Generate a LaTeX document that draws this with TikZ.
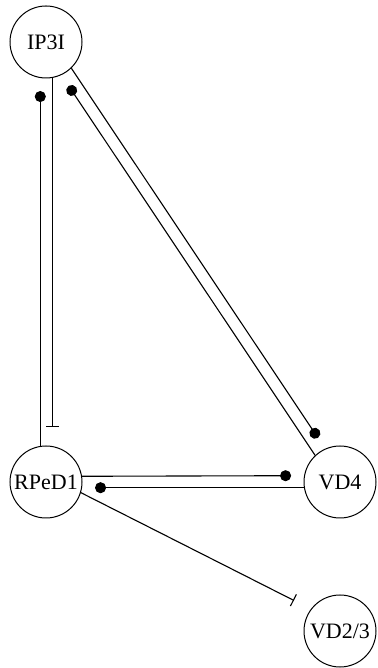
\documentclass[tikz,border=0pt]{standalone}
\usepackage{fontspec}
\setmainfont{Liberation Serif}
\usepackage{tikz}
\usetikzlibrary{arrows.meta}

\tikzset{
  cell/.style={draw,circle,line width=1pt,minimum size=72pt,inner sep=1pt,
               font=\fontsize{22}{26}\selectfont},
  excite/.style={line width=1.1pt,-{Circle[length=11pt]},shorten >=13pt},
  inhibit/.style={line width=1.1pt,-{Bar[width=13pt,line width=1.1pt]},shorten >=19pt}
}

\begin{document}
\begin{tikzpicture}[x=1pt,y=1pt]
        \useasboundingbox (0,0) rectangle (377,668);
        % neurons
        \node[cell] (ip3i)  at (46,626)  {IP3I};
        \node[cell] (rped1) at (46,186)  {RPeD1};
        \node[cell] (vd4)   at (340,186) {VD4};
        \node[cell] (vd23)  at (340,37)  {VD2/3};
        % synapses, each pair offset to the left of its direction
        \draw[inhibit] (ip3i.-80.4)   -- (rped1.80.4);
        \draw[excite]  (rped1.99.6)   -- (ip3i.-99.6);
        \draw[excite]  (rped1.9.6)    -- (vd4.170.4);
        \draw[excite]  (vd4.189.6)    -- (rped1.-9.6);
        \draw[excite]  (ip3i.-46.65)  -- (vd4.114.15);
        \draw[excite]  (vd4.133.35)   -- (ip3i.-65.85);
        \draw[inhibit] (rped1.-17.4)  -- (vd23.143.4);
      \end{tikzpicture}
\end{document}
